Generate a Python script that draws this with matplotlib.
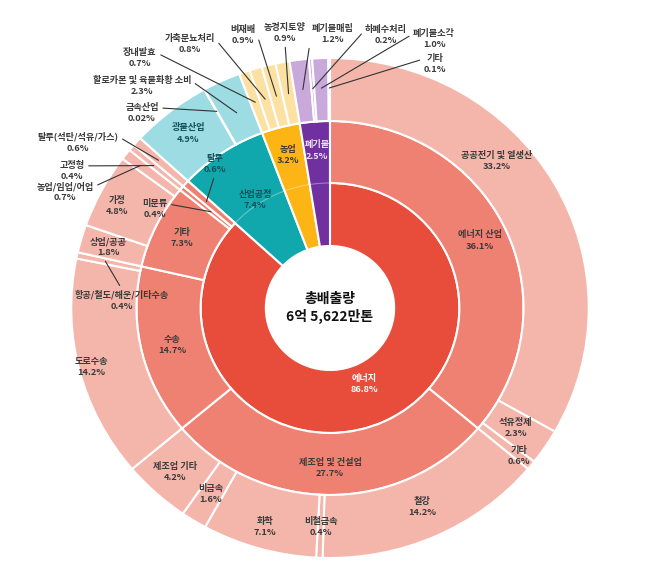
import numpy as np
import matplotlib
matplotlib.use('Agg')
import matplotlib.pyplot as plt
from matplotlib.patches import Wedge, Arc
from matplotlib.transforms import Affine2D

plt.rcParams['font.family'] = ['Noto Sans CJK KR', 'DejaVu Sans']

# 안쪽 고리: 부문별
sectors = ['에너지', '산업공정', '농업', '폐기물']
sector_share = [86.8, 7.4, 3.2, 2.5]

# 가운데 고리: 에너지 세부 부문
energy_subs = ['에너지 산업', '제조업 및 건설업', '수송', '기타', '미분류', '탈루']
energy_share = [36.1, 27.7, 14.7, 7.3, 0.4, 0.6]

# 바깥 고리
energy_ind_names = ['공공전기 및 열생산', '석유정제', '기타']
energy_ind_share = [33.2, 2.3, 0.6]
manuf_names = ['철강', '비철금속', '화학', '비금속', '제조업 기타']
manuf_share = [14.2, 0.4, 7.1, 1.6, 4.2]
transport_names = ['도로수송', '항공/철도/해운/기타수송']
transport_share = [14.2, 0.4]
other_names = ['상업/공공', '가정', '농업/임업/어업']
other_share = [1.8, 4.8, 0.7]
unclass_names = ['고정형']
unclass_share = [0.4]
fugitive_names = ['탈루(석탄/석유/가스)']
fugitive_share = [0.6]
ipp_names = ['광물산업', '금속산업', '할로카본 및 육불화황 소비']
ipp_share = [4.9, 0.02, 2.3]
agri_names = ['장내발효', '가축분뇨처리', '벼재배', '농경지토양']
agri_share = [0.7, 0.8, 0.9, 0.9]
waste_names = ['폐기물매립', '하폐수처리', '폐기물소각', '기타']
waste_share = [1.2, 0.2, 1.0, 0.1]

total_label = '총배출량\n6억 5,622만톤'

# 색
inner_colors = ['#E84C3A', '#10A8AD', '#FDB515', '#7030A0']
mid_energy_color = '#EF8172'
outer_colors = ['#F4B5AB', '#9CDCE2', '#FDE1A2', '#C9A8DC']

cx, cy = 330, 308
sx = 1.035
R0, R1, R2, R3 = 62, 125, 187, 250

fig = plt.figure(figsize=(6.5, 5.77), dpi=100)
ax = fig.add_axes([0, 0, 1, 1])
ax.set_xlim(0, 650)
ax.set_ylim(577, 0)
ax.axis('off')

tr = Affine2D().scale(sx, 1).translate(cx, cy) + ax.transData


def ang(f):
    return 360 * f - 90


def pt(f, r):
    t = np.deg2rad(ang(f))
    return cx + sx * r * np.cos(t), cy + r * np.sin(t)


def wedge(a, b, r_in, r_out, color, lw=1.5, ec='white'):
    w = Wedge((0, 0), r_out, ang(a), ang(b), width=r_out - r_in,
              facecolor=color, edgecolor=ec, linewidth=lw, transform=tr)
    ax.add_patch(w)


def spans(values, start, width):
    v = np.array(values, dtype=float)
    c = np.concatenate([[0], np.cumsum(v)]) / v.sum()
    return [(start + width * c[i], start + width * c[i + 1]) for i in range(len(v))]


sec_spans = spans(sector_share, 0, 1)

# 안쪽 고리 (에너지 외 부문은 가운데 고리까지)
for i, (a, b) in enumerate(sec_spans):
    r_out = R1 if i == 0 else R2
    wedge(a, b, R0, r_out, inner_colors[i])
    if i > 0:
        ax.add_patch(Arc((0, 0), 2 * R1, 2 * R1, theta1=ang(a), theta2=ang(b),
                         color='white', alpha=0.35, lw=0.8, transform=tr))

ea, eb = sec_spans[0]
mid_spans = spans(energy_share, ea, eb - ea)
for a, b in mid_spans:
    wedge(a, b, R1, R2, mid_energy_color)

# 바깥 고리
children = [
    (energy_ind_names, energy_ind_share), (manuf_names, manuf_share),
    (transport_names, transport_share), (other_names, other_share),
    (unclass_names, unclass_share), (fugitive_names, fugitive_share),
    (ipp_names, ipp_share), (agri_names, agri_share), (waste_names, waste_share),
]
parent_spans = mid_spans + sec_spans[1:]
parent_color = [0] * 6 + [1, 2, 3]
outer = {}
for (names, vals), (a, b), ci in zip(children, parent_spans, parent_color):
    for n, v, (p, q) in zip(names, vals, spans(vals, a, b - a)):
        wedge(p, q, R2, R3, outer_colors[ci])
        outer[(ci, n)] = ((p + q) / 2, v)

ax.add_patch(Wedge((0, 0), R0, 0, 360, facecolor='white', edgecolor='none',
                   transform=tr))

txt = dict(ha='center', va='center', fontsize=6.6, fontweight='bold',
           linespacing=1.35)
dark = '#3A3A3A'
teal_txt = '#0E4F5A'


def fmt(name, v):
    return f'{name}\n{v:.1f}%' if v >= 0.1 else f'{name}\n{v:.2f}%'


def label(name, v, f, r, color=dark):
    x, y = pt(f, r) if np.isscalar(r) else r
    ax.text(x, y, fmt(name, v), color=color, **txt)


def leader(name, v, f, r, xy_text, rel, color=dark):
    ax.annotate(fmt(name, v), xy=pt(f, r), xytext=xy_text, color=color,
                arrowprops=dict(arrowstyle='-', color='#333333', lw=0.8,
                                shrinkA=1, shrinkB=0, relpos=rel), **txt)


# 가운데 글자
ax.text(cx, cy, total_label, ha='center', va='center', fontsize=10,
        fontweight='bold', color='#111111', linespacing=1.3)

# 안쪽 고리 라벨
mids = [(a + b) / 2 for a, b in sec_spans]
label(sectors[0], sector_share[0], mids[0], 83, color='white')
label(sectors[1], sector_share[1], mids[1], 130, color=teal_txt)
label(sectors[2], sector_share[2], mids[2], 158)
label(sectors[3], sector_share[3], mids[3], 158, color='#EDE3F5')

# 가운데 고리 라벨
emids = [(a + b) / 2 for a, b in mid_spans]
label(energy_subs[0], energy_share[0], emids[0], 160)
label(energy_subs[1], energy_share[1], emids[1], 160)
label(energy_subs[2], energy_share[2], emids[2], 157)
label(energy_subs[3], energy_share[3], emids[3], 159)
leader(energy_subs[4], energy_share[4], emids[4], 150, (155, 209), (1, 0.75))
leader(energy_subs[5], energy_share[5], emids[5], 160, (215, 164), (0.5, 0),
       color=teal_txt)

# 바깥 고리 라벨 (고리 안)
in_ring = {
    (0, '공공전기 및 열생산'): (497, 161), (0, '석유정제'): 216, (0, '기타'): 235,
    (0, '철강'): 218, (0, '비철금속'): 219, (0, '화학'): 228,
    (0, '비금속'): 219, (0, '제조업 기타'): 222, (0, '도로수송'): 238,
    (0, '상업/공공'): (108, 247), (0, '가정'): (117, 206), (1, '광물산업'): 222,
}
for key, r in in_ring.items():
    f, v = outer[key]
    label(key[1], v, f, r, color=teal_txt if key[0] == 1 else dark)

# 바깥 고리 라벨 (지시선)
leaders = [
    ((0, '항공/철도/해운/기타수송'), 222, (122, 300), (0.5, 1)),
    ((0, '농업/임업/어업'), 232, (65, 192), (1, 0.75)),
    ((0, '고정형'), 222, (72, 171), (1, 0.75)),
    ((0, '탈루(석탄/석유/가스)'), 222, (78, 142), (1, 0.75)),
    ((1, '금속산업'), 225, (142, 113), (1, 0.75)),
    ((1, '할로카본 및 육불화황 소비'), 215, (142, 86), (1, 0.75)),
    ((2, '장내발효'), 218, (140, 58), (1, 0.75)),
    ((2, '가축분뇨처리'), 218, (190, 44), (1, 0.75)),
    ((2, '벼재배'), 218, (243, 35), (1, 0.75)),
    ((2, '농경지토양'), 218, (285, 33), (0.5, 0)),
    ((3, '폐기물매립'), 220, (333, 34), (0, 0.75)),
    ((3, '하폐수처리'), 220, (386, 35), (0, 0.75)),
    ((3, '폐기물소각'), 220, (434, 39), (0, 0.75)),
    ((3, '기타'), 220, (435, 64), (0, 0.75)),
]
for key, r, xy, rel in leaders:
    f, v = outer[key]
    leader(key[1], v, f, r, xy, rel)

plt.savefig('out.png', dpi=100)
